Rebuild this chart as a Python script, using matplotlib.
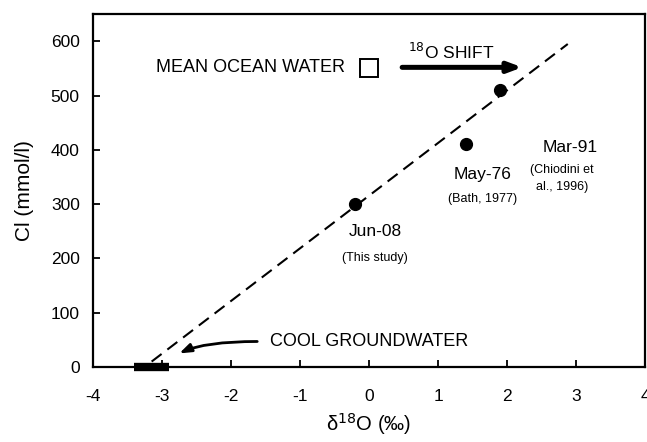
import matplotlib
matplotlib.use("Agg")
import matplotlib.pyplot as plt

plt.rcParams['font.family'] = ['Liberation Sans', 'DejaVu Sans']
plt.rcParams['axes.unicode_minus'] = False

# Sample points: delta-18O (permil) and chloride (mmol/l)
sample_labels = ["Jun-08", "May-76", "Mar-91"]
sample_refs = ["(This study)", "(Bath, 1977)", "(Chiodini et\nal., 1996)"]
sample_d18o = [-0.2, 1.4, 1.9]
sample_cl = [300, 410, 510]

# Mean ocean water end-member
ocean_d18o = [0.0]
ocean_cl = [550]

# Mixing line end points
mix_d18o = [-3.15, 2.88]
mix_cl = [10, 595]

# Cool groundwater range on the d18O axis
gw_d18o = [-3.4, -2.9]
gw_cl = [0, 0]

xticks = [-4, -3, -2, -1, 0, 1, 2, 3, 4]
yticks = [0, 100, 200, 300, 400, 500, 600]

fig = plt.figure(figsize=(6.47, 4.42), dpi=100)
ax = fig.add_axes([0.1437, 0.1697, 0.8533, 0.7983])

ax.plot(mix_d18o, mix_cl, color='black', lw=1.5, ls=(0, (6, 3.5)))
ax.plot(gw_d18o, gw_cl, color='black', lw=6, solid_capstyle='butt', clip_on=False, zorder=5)
ax.plot(sample_d18o, sample_cl, 'o', color='black', ms=8.5, zorder=6)
ax.plot(ocean_d18o, ocean_cl, 's', mfc='white', mec='black', mew=1.4, ms=12.5, zorder=6)

# Sample annotations
label_pos = [(0.09, 250), (1.65, 355), (2.92, 405)]
ref_pos = [(0.09, 200), (1.65, 309), (2.8, 348)]
for lab, ref, (lx, ly), (rx, ry) in zip(sample_labels, sample_refs, label_pos, ref_pos):
    ax.text(lx, ly, lab, ha='center', va='center', fontsize=12.5)
    ax.text(rx, ry, ref, ha='center', va='center', fontsize=9, linespacing=1.55)

ax.text(-0.35, 551, "MEAN OCEAN WATER", ha='right', va='center', fontsize=13)

# Oxygen-18 shift arrow
ax.annotate("", xy=(2.22, 552), xytext=(0.48, 552),
            arrowprops=dict(arrowstyle='-|>,head_length=0.8,head_width=0.3',
                            color='black', lw=3.6, shrinkA=0, shrinkB=0))
ax.text(1.19, 580, "$^{18}$O SHIFT", ha='center', va='center', fontsize=12.5)

# Cool groundwater arrow
ax.annotate("", xy=(-2.75, 25), xytext=(-1.62, 47),
            arrowprops=dict(arrowstyle='-|>,head_length=0.7,head_width=0.25',
                            color='black', lw=2, shrinkA=0, shrinkB=0,
                            connectionstyle='angle3,angleA=0,angleB=25'))
ax.text(-1.44, 47, "COOL GROUNDWATER", ha='left', va='center', fontsize=13)

ax.set_xlim(-4, 4)
ax.set_ylim(0, 650)
ax.set_xticks(xticks)
ax.set_yticks(yticks)
ax.tick_params(axis='x', direction='in', length=5, width=1.3, labelsize=12.5, pad=16)
ax.tick_params(axis='y', direction='in', length=5, width=1.3, labelsize=12.5, pad=9.5)
for s in ax.spines.values():
    s.set_linewidth(1.6)

ax.set_xlabel("δ$^{18}$O (‰)", fontsize=14.5, labelpad=5)
ax.set_ylabel("Cl (mmol/l)", fontsize=15, labelpad=12)

fig.savefig("out.png", dpi=100)
